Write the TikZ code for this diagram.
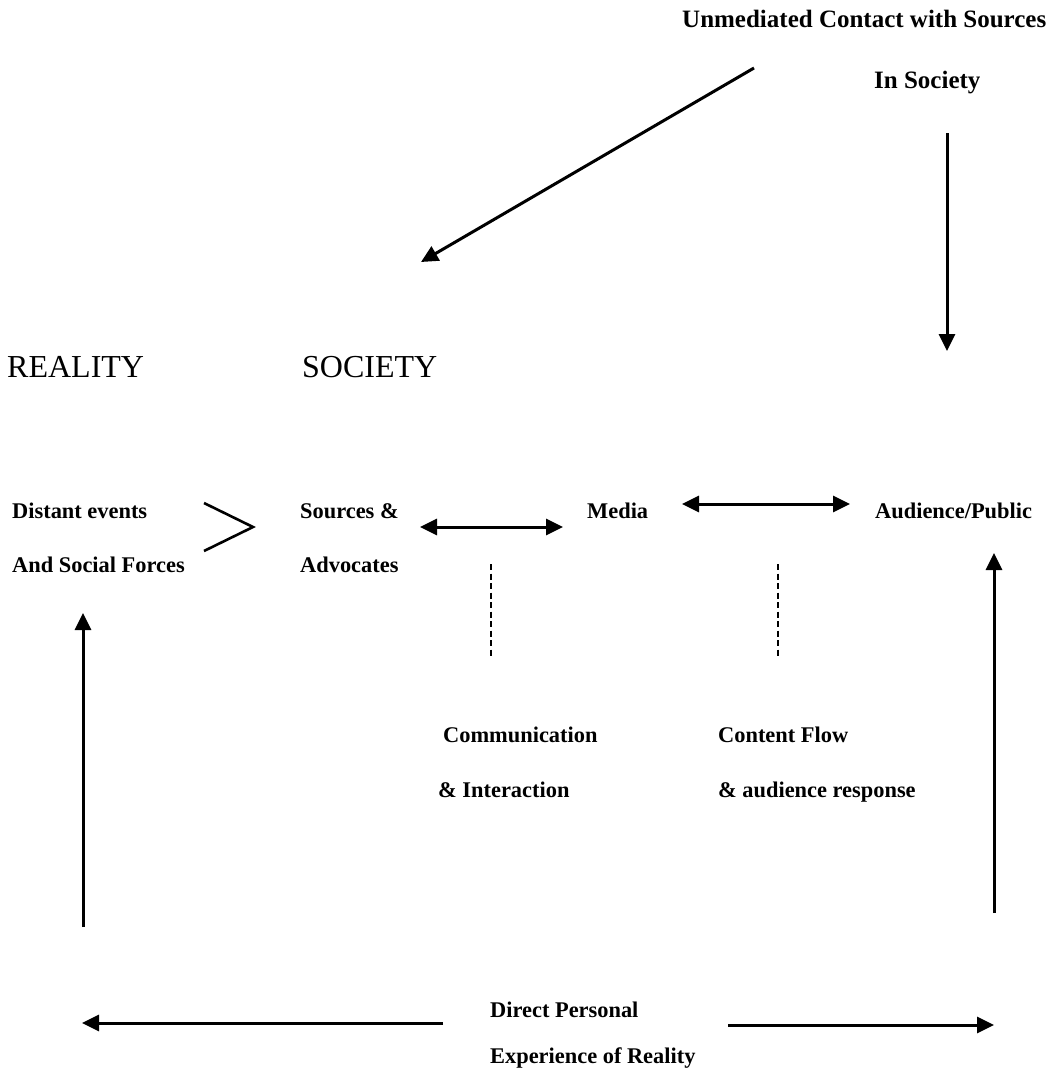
\documentclass[tikz,border=0pt]{standalone}
\usepackage{fontspec}
\setmainfont{Liberation Serif}
\usetikzlibrary{arrows.meta}
\tikzset{
  lbl/.style={anchor=base west, inner sep=0pt, font=\bfseries\fontsize{22.4}{26}\selectfont},
  toplbl/.style={anchor=base west, inner sep=0pt, font=\bfseries\fontsize{25}{28}\selectfont},
  head/.style={anchor=base west, inner sep=0pt, font=\fontsize{32}{36}\selectfont},
  tip/.style={Triangle[length=17pt,width=16pt]},
  conn/.style={line width=3pt, -{Triangle[length=17pt,width=16pt]}},
  dconn/.style={line width=3pt, {Triangle[length=17pt,width=16pt]}-{Triangle[length=17pt,width=16pt]}},
  dashline/.style={line width=2.8pt, dash pattern=on 6pt off 3.5pt}
}
\begin{document}
\begin{tikzpicture}[x=1pt,y=-1pt]
\useasboundingbox (0,0) rectangle (1052,1080);
\fill[white] (0,0) rectangle (1052,1080);
% texts
\node[toplbl] (umc) at (682,27) {Unmediated Contact with Sources};
\node[toplbl] (insoc) at (874,88) {In Society};
\node[head] (reality) at (7,377) {REALITY};
\node[head] (society) at (302,377) {SOCIETY};
\node[lbl] (dist1) at (12,518) {Distant events};
\node[lbl] (dist2) at (12,572) {And Social Forces};
\node[lbl] (src1) at (300,518) {Sources \&};
\node[lbl] (src2) at (300,572) {Advocates};
\node[lbl] (media) at (587,518) {Media};
\node[lbl] (aud) at (875,518) {Audience/Public};
\node[lbl] (comm1) at (443,742) {Communication};
\node[lbl] (comm2) at (438,797) {\& Interaction};
\node[lbl] (cont1) at (718,742) {Content Flow};
\node[lbl] (cont2) at (718,797) {\& audience response};
\node[lbl] (dir1) at (490,1017) {Direct Personal};
\node[lbl] (dir2) at (490,1063) {Experience of Reality};
% coordinates
\coordinate (diagS) at (754,68);
\coordinate (diagE) at (421,262);
\coordinate (vS) at (947,133);
\coordinate (vE) at (947,351);
\coordinate (gtA) at (204,503);
\coordinate (gtB) at (253,527);
\coordinate (gtC) at (204,551);
\coordinate (saL) at (420,527);
\coordinate (saR) at (563,527);
\coordinate (maL) at (682,504);
\coordinate (maR) at (850,504);
\coordinate (d1T) at (491,564);
\coordinate (d1B) at (491,657);
\coordinate (d2T) at (778,564);
\coordinate (d2B) at (778,657);
\coordinate (ruB) at (994,913);
\coordinate (ruT) at (994,553);
\coordinate (luB) at (83,927);
\coordinate (luT) at (83,613);
\coordinate (blS) at (443,1023);
\coordinate (blE) at (82,1023);
\coordinate (brS) at (728,1025);
\coordinate (brE) at (994,1025);
% connectors
\draw[conn] (diagS) -- (diagE);
\draw[conn] (vS) -- (vE);
\draw[line width=2.6pt] (gtA) -- (gtB) -- (gtC);
\draw[dconn] (saL) -- (saR);
\draw[dconn] (maL) -- (maR);
\draw[dashline] (d1T) -- (d1B);
\draw[dashline] (d2T) -- (d2B);
\draw[conn] (ruB) -- (ruT);
\draw[conn] (luB) -- (luT);
\draw[conn] (blS) -- (blE);
\draw[conn] (brS) -- (brE);
\end{tikzpicture}
\end{document}
